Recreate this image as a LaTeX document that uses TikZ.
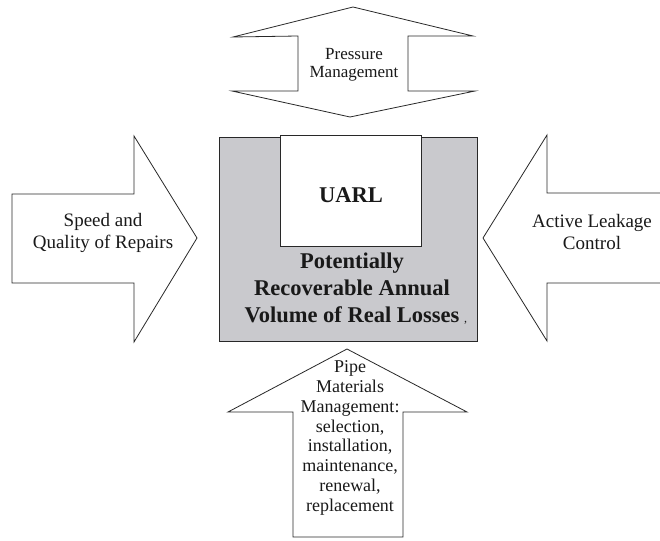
\documentclass[tikz,border=0pt]{standalone}
\usepackage{fontspec}
\setmainfont{Liberation Serif}
\definecolor{boxgray}{RGB}{201,201,205}
\definecolor{edge}{RGB}{40,40,40}
\begin{document}
\begin{tikzpicture}[x=1pt,y=-1pt,
  outline/.style={draw=edge, line width=0.8pt, line join=miter},
  lbl/.style={align=center, inner sep=0pt, text=black!90},
  plain/.style={lbl, font=\fontsize{19}{21.5}\selectfont},
  heavy/.style={lbl, font=\fontsize{22.5}{27}\selectfont\bfseries}]
\useasboundingbox (0,0) rectangle (660,540);
\fill[white] (0,0) rectangle (660,540);
\clip (0,0) rectangle (660,540);

% pressure management: double-headed vertical arrow
\draw[outline, fill=white] (353,7) -- (473,36) -- (408,36) -- (408,91) -- (475,91)
  -- (350,117) -- (232,91) -- (298,91) -- (298,36) -- (233,37) -- cycle;

% central block with the UARL inset
\draw[outline, fill=boxgray] (219,137) rectangle (477,341);
\draw[outline, fill=white] (280,135) rectangle (421,246);

% speed and quality of repairs: arrow pointing right
\draw[outline, fill=white] (12,194) -- (134,194) -- (134,136) -- (197,238)
  -- (134,342) -- (134,283) -- (12,283) -- cycle;

% active leakage control: arrow pointing left
\draw[outline, fill=white] (670,193) -- (547,193) -- (547,135) -- (483,238)
  -- (547,341) -- (547,283) -- (670,283);

% pipe materials management: arrow pointing up
\draw[outline, fill=white] (347,349) -- (467,412) -- (403,412) -- (403,537)
  -- (293,537) -- (293,412) -- (228,412) -- cycle;

% labels
\node[lbl, font=\fontsize{17}{17.5}\selectfont] (press) at (354,65) {Pressure\\Management};
\node[heavy] (uarl) at (351,195) {UARL};
\node[heavy] (parl) at (352,288) {Potentially\\Recoverable Annual\\Volume of Real Losses};
\node[lbl, font=\fontsize{12}{12}\selectfont, anchor=base west] (comma) at (464,322) {,};
\node[plain] (repair) at (103,233) {Speed and\\Quality of Repairs};
\node[plain] (alc) at (592,232) {Active Leakage\\Control};
\node[lbl, font=\fontsize{18}{19.8}\selectfont] (pipe) at (350,438)
  {Pipe\\Materials\\Management:\\selection,\\installation,\\maintenance,\\renewal,\\replacement};
\end{tikzpicture}
\end{document}
